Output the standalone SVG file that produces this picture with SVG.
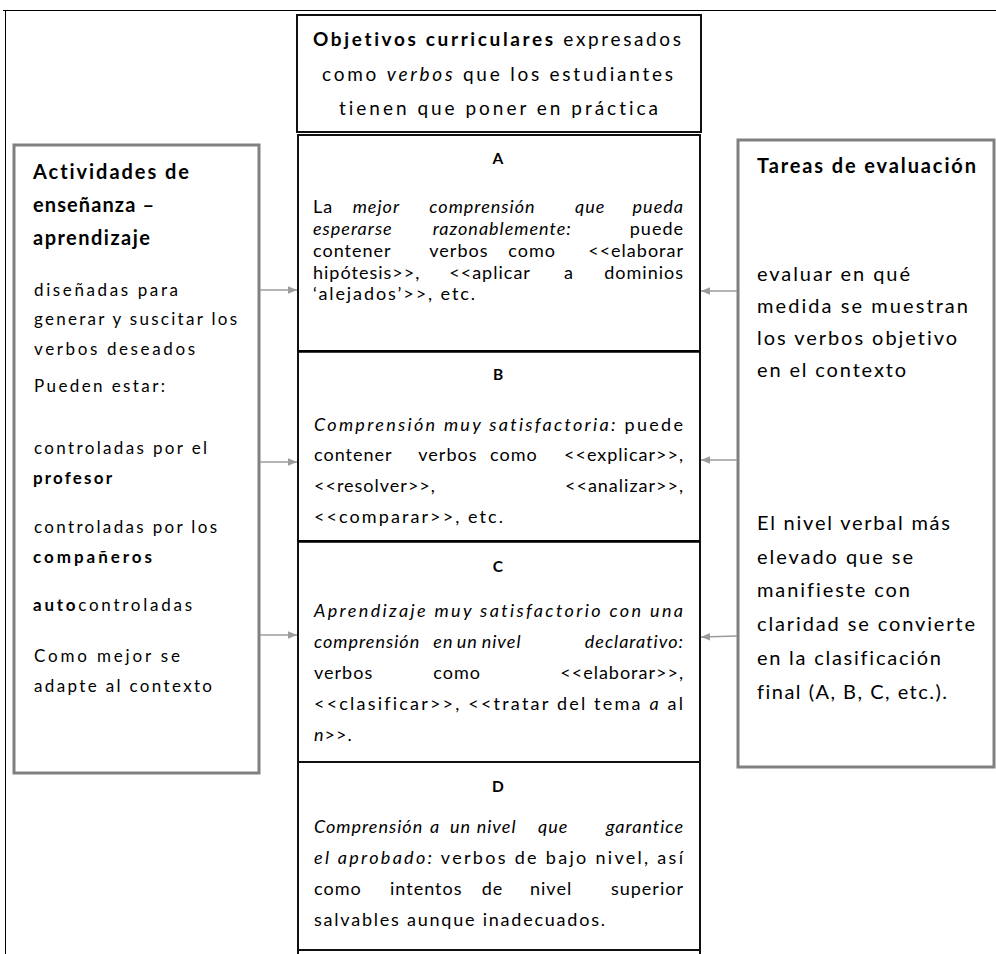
<svg xmlns="http://www.w3.org/2000/svg" width="996" height="954" viewBox="0 0 996 954">
  <defs>
    <marker id="ah" markerUnits="userSpaceOnUse" markerWidth="9" markerHeight="9" viewBox="0 0 9 9" refX="9" refY="4.5" orient="auto">
      <path d="M0,0.8 L9,4.5 L0,8.2 Z" fill="#9c9c9c"/>
    </marker>
  </defs>
  <style>
    text { font-family: Lato, "Open Sans", "Liberation Sans", sans-serif; fill: #000; font-variant-ligatures: none; font-feature-settings: "liga" 0, "clig" 0; }
    .b { font-weight: bold; }
    .i { font-style: italic; }
    .col { fill: #fff; stroke: #111; stroke-width: 2; }
    .side { fill: #fff; stroke: #808080; stroke-width: 3; }
    .frame { stroke: #000; stroke-width: 1; fill: none; }
    .arr { stroke: #9c9c9c; stroke-width: 1.5; fill: none; marker-end: url(#ah); }
    .top { font-size: 19px; }
    .body { font-size: 18px; letter-spacing: 1px; }
    .fit { letter-spacing: 0; }
    .lab { font-size: 15.5px; font-weight: bold; text-anchor: middle; }
    .lhead { font-size: 20px; font-weight: bold; }
    .lbody { font-size: 17px; }
    .rhead { font-size: 20px; font-weight: bold; }
    .rbody { font-size: 20px; }
    .e { text-anchor: end; }
  </style>

  <rect x="0" y="0" width="996" height="954" fill="#fff"/>

  <!-- outer frame -->
  <g id="frame">
    <line class="frame" x1="3" y1="10.5" x2="996" y2="10.5"/>
    <line class="frame" x1="5.5" y1="10.5" x2="5.5" y2="954"/>
  </g>

  <!-- curricular objectives header -->
  <g id="objetivos">
    <rect class="col" x="297" y="15" width="404" height="117"/>
    <text class="top" x="313" y="46" textLength="368" lengthAdjust="spacing"><tspan class="b">Objetivos curriculares</tspan> expresados</text>
    <text class="top" x="322" y="81" textLength="351" lengthAdjust="spacing">como <tspan class="i">verbos</tspan> que los estudiantes</text>
    <text class="top" x="339" y="115" textLength="319" lengthAdjust="spacing">tienen que poner en práctica</text>
  </g>

  <!-- level A -->
  <g id="nivel-a">
    <rect class="col" x="298" y="135" width="402" height="216"/>
    <text class="lab" x="498" y="164">A</text>
    <text class="body" y="213"><tspan x="313">La</tspan><tspan class="i" x="352.7">mejor</tspan><tspan class="i" x="429.3">comprensión</tspan><tspan class="i" x="575">que</tspan><tspan class="i e" x="684">pueda</tspan></text>
    <text class="body" y="235"><tspan class="i" x="313">esperarse</tspan><tspan class="i" x="432.7">razonablemente:</tspan><tspan class="e" x="684">puede</tspan></text>
    <text class="body" y="257"><tspan x="313">contener</tspan><tspan x="429.3">verbos</tspan><tspan x="508.3">como</tspan><tspan class="e" x="684">&lt;&lt;elaborar</tspan></text>
    <text class="body" y="278.5"><tspan x="313">hipótesis&gt;&gt;,</tspan><tspan x="449.3">&lt;&lt;aplicar</tspan><tspan x="564">a</tspan><tspan class="e" x="684">dominios</tspan></text>
    <text class="body fit" x="313" y="300" textLength="162" lengthAdjust="spacing">‘alejados’&gt;&gt;, etc.</text>
  </g>

  <!-- level B -->
  <g id="nivel-b">
    <rect class="col" x="298" y="351" width="402" height="190"/>
    <line x1="298" y1="351.5" x2="700" y2="351.5" stroke="#000" stroke-width="2.5"/>
    <text class="lab" x="498" y="380">B</text>
    <text class="body fit" x="314" y="431" textLength="369" lengthAdjust="spacing"><tspan class="i">Comprensión muy satisfactoria:</tspan> puede</text>
    <text class="body" y="461"><tspan x="314">contener</tspan><tspan x="418.3">verbos</tspan><tspan x="490">como</tspan><tspan class="e" x="684">&lt;&lt;explicar&gt;&gt;,</tspan></text>
    <text class="body" y="492"><tspan x="314">&lt;&lt;resolver&gt;&gt;,</tspan><tspan class="e" x="684">&lt;&lt;analizar&gt;&gt;,</tspan></text>
    <text class="body fit" x="314" y="523" textLength="189" lengthAdjust="spacing">&lt;&lt;comparar&gt;&gt;, etc.</text>
  </g>

  <!-- level C -->
  <g id="nivel-c">
    <rect class="col" x="298" y="541" width="402" height="221"/>
    <line x1="298" y1="541.5" x2="700" y2="541.5" stroke="#000" stroke-width="2.5"/>
    <text class="lab" x="498" y="572">C</text>
    <text class="body fit i" x="314" y="617" textLength="369" lengthAdjust="spacing">Aprendizaje muy satisfactorio con una</text>
    <text class="body i" y="648"><tspan x="314">comprensión</tspan><tspan x="433.3">en</tspan><tspan x="456.7">un</tspan><tspan x="481.7">nivel</tspan><tspan class="e" x="684">declarativo:</tspan></text>
    <text class="body" y="679"><tspan x="314">verbos</tspan><tspan x="433.3">como</tspan><tspan class="e" x="684">&lt;&lt;elaborar&gt;&gt;,</tspan></text>
    <text class="body fit" x="314" y="710" textLength="369" lengthAdjust="spacing">&lt;&lt;clasificar&gt;&gt;, &lt;&lt;tratar del tema <tspan class="i">a</tspan> al</text>
    <text class="body" x="314" y="741"><tspan class="i">n</tspan>&gt;&gt;.</text>
  </g>

  <!-- level D -->
  <g id="nivel-d">
    <rect class="col" x="298" y="762" width="402" height="188"/>
    <line x1="298" y1="950" x2="298" y2="954" stroke="#111" stroke-width="2"/>
    <line x1="700" y1="950" x2="700" y2="954" stroke="#111" stroke-width="2"/>
    <text class="lab" x="498" y="792">D</text>
    <text class="body i" y="833"><tspan x="314">Comprensión</tspan><tspan x="430">a</tspan><tspan x="450">un</tspan><tspan x="476.7">nivel</tspan><tspan x="538">que</tspan><tspan class="e" x="684">garantice</tspan></text>
    <text class="body fit" x="314" y="864" textLength="369" lengthAdjust="spacing"><tspan class="i">el aprobado:</tspan> verbos de bajo nivel, así</text>
    <text class="body" y="895"><tspan x="314">como</tspan><tspan x="390">intentos</tspan><tspan x="481.7">de</tspan><tspan x="530">nivel</tspan><tspan class="e" x="684">superior</tspan></text>
    <text class="body fit" x="314" y="926" textLength="291" lengthAdjust="spacing">salvables aunque inadecuados.</text>
  </g>

  <!-- teaching / learning activities -->
  <g id="actividades">
    <rect class="side" x="14" y="145" width="245" height="628"/>
    <text class="lhead" x="33" y="179" textLength="156" lengthAdjust="spacing">Actividades de</text>
    <text class="lhead" x="33" y="212" textLength="121" lengthAdjust="spacing">enseñanza –</text>
    <text class="lhead" x="33" y="245" textLength="117" lengthAdjust="spacing">aprendizaje</text>
    <text class="lbody" x="34" y="296" textLength="144" lengthAdjust="spacing">diseñadas para</text>
    <text class="lbody" x="34" y="325" textLength="203" lengthAdjust="spacing">generar y suscitar los</text>
    <text class="lbody" x="34" y="355" textLength="161" lengthAdjust="spacing">verbos deseados</text>
    <text class="lbody" x="34" y="392" textLength="131" lengthAdjust="spacing">Pueden estar:</text>
    <text class="lbody" x="34" y="454" textLength="173" lengthAdjust="spacing">controladas por el</text>
    <text class="lbody b" x="33" y="484" textLength="79" lengthAdjust="spacing">profesor</text>
    <text class="lbody" x="34" y="533" textLength="183" lengthAdjust="spacing">controladas por los</text>
    <text class="lbody b" x="33" y="563" textLength="119" lengthAdjust="spacing">compañeros</text>
    <text class="lbody" x="33" y="611" textLength="159" lengthAdjust="spacing"><tspan class="b">auto</tspan>controladas</text>
    <text class="lbody" x="34" y="662" textLength="146" lengthAdjust="spacing">Como mejor se</text>
    <text class="lbody" x="34" y="692" textLength="178" lengthAdjust="spacing">adapte al contexto</text>
  </g>

  <!-- assessment tasks -->
  <g id="tareas">
    <rect class="side" x="738" y="140" width="256" height="627"/>
    <text class="rhead" x="757" y="173" textLength="219" lengthAdjust="spacing">Tareas de evaluación</text>
    <text class="rbody" x="757" y="281" textLength="153" lengthAdjust="spacing">evaluar en qué</text>
    <text class="rbody" x="757" y="313" textLength="211" lengthAdjust="spacing">medida se muestran</text>
    <text class="rbody" x="757" y="345" textLength="200" lengthAdjust="spacing">los verbos objetivo</text>
    <text class="rbody" x="757" y="377" textLength="149" lengthAdjust="spacing">en el contexto</text>
    <text class="rbody" x="757" y="530" textLength="193" lengthAdjust="spacing">El nivel verbal más</text>
    <text class="rbody" x="757" y="564" textLength="156" lengthAdjust="spacing">elevado que se</text>
    <text class="rbody" x="757" y="597" textLength="153" lengthAdjust="spacing">manifieste con</text>
    <text class="rbody" x="757" y="631" textLength="218" lengthAdjust="spacing">claridad se convierte</text>
    <text class="rbody" x="757" y="665" textLength="184" lengthAdjust="spacing">en la clasificación</text>
    <text class="rbody" x="757" y="699" textLength="190" lengthAdjust="spacing">final (A, B, C, etc.).</text>
  </g>

  <!-- connectors -->
  <g id="connectors">
    <line class="arr" x1="260" y1="290" x2="297" y2="290"/>
    <line class="arr" x1="260" y1="462" x2="297" y2="462"/>
    <line class="arr" x1="260" y1="635" x2="297" y2="635"/>
    <line class="arr" x1="737" y1="291" x2="701" y2="291"/>
    <line class="arr" x1="737" y1="460" x2="701" y2="460"/>
    <line class="arr" x1="737" y1="636" x2="701" y2="637"/>
  </g>
</svg>
